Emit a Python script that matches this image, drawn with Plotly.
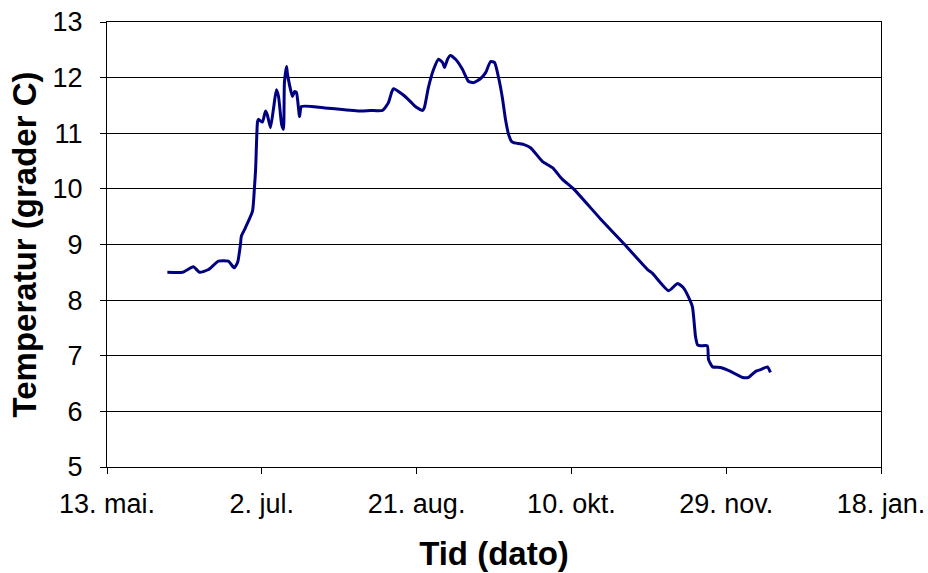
import plotly.graph_objects as go

# days since 13. mai
days = [19.5, 24.4, 27.9, 29.9, 32.8, 36.0, 39.2, 41.1, 42.2, 43.1, 43.4, 44.7, 47.0, 47.6,
        48.0, 48.6, 48.9, 50.2, 51.2, 51.8, 52.8, 53.8, 54.7, 55.4, 56.4, 57.0, 57.3, 58.0,
        58.3, 59.9, 60.6, 61.2, 62.2, 62.8, 69.9, 81.9, 85.1, 89.0, 90.9, 91.9, 92.5, 95.4,
        98.0, 99.6, 101.9, 102.5, 103.8, 105.5, 107.1, 108.4, 109.0, 110.0, 110.9, 112.6,
        114.8, 116.8, 118.4, 120.6, 122.3, 123.9, 125.2, 126.4, 127.7, 128.7, 129.7, 130.7,
        131.3, 134.5, 136.8, 140.7, 143.9, 147.1, 150.7, 159.4, 167.2, 174.6, 176.2, 181.4,
        184.3, 186.2, 187.8, 189.1, 190.1, 190.7, 191.7, 193.9, 194.3, 195.6, 198.2, 201.4,
        205.3, 207.2, 209.5, 211.1, 213.3, 214.3]
temps = [8.50, 8.50, 8.60, 8.50, 8.55, 8.70, 8.70, 8.58, 8.68, 9.00, 9.15, 9.30, 9.60, 10.00,
         10.35, 11.20, 11.25, 11.20, 11.40, 11.33, 11.10, 11.45, 11.78, 11.66, 11.16, 11.07,
         11.90, 12.20, 12.06, 11.66, 11.75, 11.73, 11.30, 11.48, 11.46, 11.40, 11.41, 11.41,
         11.55, 11.73, 11.80, 11.70, 11.57, 11.48, 11.41, 11.46, 11.82, 12.15, 12.33, 12.27,
         12.18, 12.33, 12.40, 12.33, 12.15, 11.93, 11.91, 11.98, 12.09, 12.29, 12.27, 12.02,
         11.64, 11.25, 10.98, 10.85, 10.83, 10.80, 10.74, 10.49, 10.38, 10.17, 10.00, 9.46,
         9.00, 8.55, 8.48, 8.17, 8.30, 8.22, 8.06, 7.88, 7.34, 7.20, 7.18, 7.18, 6.93, 6.80,
         6.79, 6.72, 6.61, 6.61, 6.72, 6.75, 6.80, 6.70]

x_tickvals = [0, 50, 100, 150, 200, 250]
x_ticktext = ["13. mai.", "2. jul.", "21. aug.", "10. okt.", "29. nov.", "18. jan."]
y_tickvals = [5, 6, 7, 8, 9, 10, 11, 12, 13]

fig = go.Figure()
fig.add_trace(go.Scatter(x=days, y=temps, mode="lines",
                         line=dict(color="#000080", width=3, shape="spline", smoothing=0.5),
                         showlegend=False))

font = "Liberation Sans, Arial, sans-serif"
fig.update_layout(
    width=928, height=573,
    margin=dict(l=107, r=47, t=22, b=106, autoexpand=False),
    paper_bgcolor="white", plot_bgcolor="white",
    font=dict(family=font, size=28, color="black"),
    xaxis=dict(range=[0, 250], tickvals=x_tickvals, ticktext=x_ticktext, automargin=False,
               showgrid=False, zeroline=False, showline=True, linecolor="black", linewidth=1,
               mirror=True, ticks="outside", ticklen=6, tickcolor="black",
               tickfont=dict(size=27, family=font), ticklabelstandoff=7,
               ticklabeloverflow="allow",
               title=dict(text="<b>Tid (dato)</b>", font=dict(size=33, family=font), standoff=23)),
    yaxis=dict(range=[5, 13], tickvals=y_tickvals, automargin=False,
               showgrid=True, gridcolor="black", gridwidth=1, zeroline=False,
               showline=True, linecolor="black", linewidth=1, mirror=True,
               ticks="outside", ticklen=6, tickcolor="black",
               tickfont=dict(size=27, family=font), ticklabelstandoff=12,
               ticklabeloverflow="allow",
               title=dict(text="<b>Temperatur (grader C)</b>", font=dict(size=33, family=font), standoff=6)),
)

fig.write_html("out.html", config={"displayModeBar": False},
               post_script="document.body.style.margin='0';document.body.style.overflow='hidden';")
